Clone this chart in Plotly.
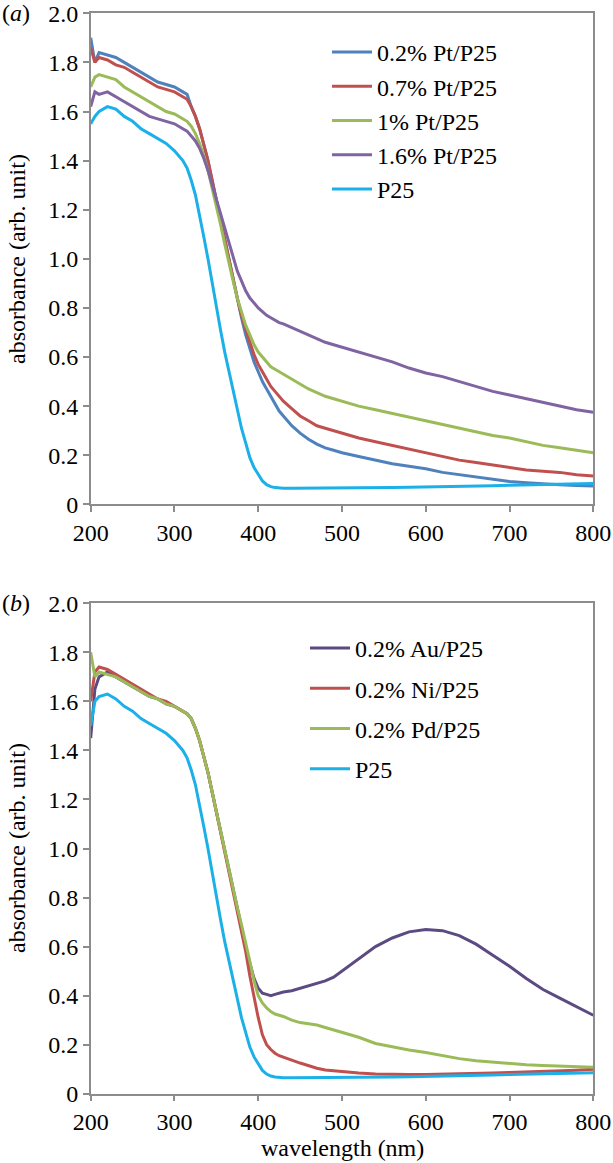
import plotly.graph_objects as go

# ---------------- data ----------------
wl = [200, 205, 210, 220, 230, 240, 250, 260, 270, 280, 290, 300, 310, 315, 320, 325, 330, 335, 340, 345,
      350, 355, 360, 365, 370, 375, 380, 385, 390, 395, 400, 405, 410, 415, 420, 425, 430, 440, 450, 460,
      470, 480, 490, 500, 520, 540, 560, 580, 600, 620, 640, 660, 680, 700, 720, 740, 760, 780, 800]

# panel (a)
pt02 = [1.90, 1.80, 1.84, 1.83, 1.82, 1.80, 1.78, 1.76, 1.74, 1.72, 1.71, 1.70, 1.68, 1.67, 1.62, 1.58, 1.53, 1.47, 1.40, 1.32,
        1.24, 1.16, 1.07, 0.99, 0.91, 0.83, 0.76, 0.69, 0.63, 0.58, 0.54, 0.50, 0.47, 0.44, 0.41, 0.38, 0.36, 0.32, 0.29, 0.265,
        0.245, 0.23, 0.22, 0.21, 0.195, 0.18, 0.165, 0.155, 0.145, 0.13, 0.12, 0.11, 0.10, 0.093, 0.088, 0.083, 0.08, 0.077, 0.075]
pt07 = [1.86, 1.80, 1.82, 1.81, 1.79, 1.78, 1.76, 1.74, 1.72, 1.70, 1.69, 1.68, 1.66, 1.65, 1.62, 1.58, 1.53, 1.47, 1.40, 1.32,
        1.24, 1.16, 1.07, 0.99, 0.91, 0.84, 0.77, 0.71, 0.66, 0.61, 0.57, 0.54, 0.51, 0.48, 0.46, 0.44, 0.42, 0.39, 0.36, 0.34,
        0.32, 0.31, 0.30, 0.29, 0.27, 0.255, 0.24, 0.225, 0.21, 0.195, 0.18, 0.17, 0.16, 0.15, 0.14, 0.135, 0.13, 0.12, 0.115]
pt1 = [1.70, 1.74, 1.75, 1.74, 1.73, 1.70, 1.68, 1.66, 1.64, 1.62, 1.60, 1.59, 1.57, 1.56, 1.54, 1.51, 1.47, 1.42, 1.36, 1.29,
       1.22, 1.14, 1.06, 0.98, 0.91, 0.84, 0.78, 0.73, 0.69, 0.65, 0.62, 0.60, 0.58, 0.56, 0.55, 0.54, 0.53, 0.51, 0.49, 0.47,
       0.455, 0.44, 0.43, 0.42, 0.40, 0.385, 0.37, 0.355, 0.34, 0.325, 0.31, 0.295, 0.28, 0.27, 0.255, 0.24, 0.23, 0.22, 0.21]
pt16 = [1.62, 1.68, 1.67, 1.68, 1.66, 1.64, 1.62, 1.60, 1.58, 1.57, 1.56, 1.55, 1.53, 1.52, 1.50, 1.48, 1.45, 1.41, 1.36, 1.30,
        1.24, 1.18, 1.12, 1.06, 1.00, 0.95, 0.91, 0.87, 0.84, 0.82, 0.80, 0.785, 0.77, 0.76, 0.75, 0.74, 0.735, 0.72, 0.705, 0.69,
        0.675, 0.66, 0.65, 0.64, 0.62, 0.60, 0.58, 0.555, 0.535, 0.52, 0.50, 0.48, 0.46, 0.445, 0.43, 0.415, 0.40, 0.385, 0.375]
p25a = [1.55, 1.58, 1.60, 1.62, 1.61, 1.58, 1.56, 1.53, 1.51, 1.49, 1.47, 1.44, 1.40, 1.37, 1.32, 1.26, 1.18, 1.09, 1.00, 0.90,
        0.80, 0.71, 0.62, 0.54, 0.46, 0.38, 0.31, 0.25, 0.19, 0.15, 0.12, 0.095, 0.08, 0.072, 0.068, 0.066, 0.065, 0.065, 0.065, 0.065,
        0.065, 0.066, 0.066, 0.066, 0.067, 0.067, 0.068, 0.069, 0.07, 0.071, 0.072, 0.074, 0.076, 0.078, 0.079, 0.08, 0.082, 0.083, 0.085]

# panel (b)
au02 = [1.45, 1.65, 1.70, 1.72, 1.70, 1.68, 1.66, 1.64, 1.62, 1.61, 1.59, 1.58, 1.56, 1.55, 1.53, 1.49, 1.44, 1.38, 1.31, 1.23,
        1.15, 1.07, 1.00, 0.92, 0.84, 0.76, 0.68, 0.60, 0.53, 0.47, 0.43, 0.41, 0.405, 0.40, 0.405, 0.41, 0.415, 0.42, 0.43, 0.44,
        0.45, 0.46, 0.475, 0.50, 0.55, 0.60, 0.635, 0.66, 0.67, 0.665, 0.645, 0.61, 0.565, 0.52, 0.47, 0.425, 0.39, 0.355, 0.32]
ni02 = [1.60, 1.72, 1.74, 1.73, 1.71, 1.69, 1.67, 1.65, 1.63, 1.61, 1.60, 1.58, 1.56, 1.55, 1.53, 1.49, 1.44, 1.38, 1.31, 1.23,
        1.15, 1.07, 0.99, 0.91, 0.83, 0.75, 0.67, 0.58, 0.48, 0.39, 0.31, 0.24, 0.20, 0.18, 0.165, 0.155, 0.148, 0.137, 0.125, 0.113,
        0.104, 0.097, 0.093, 0.09, 0.084, 0.08, 0.078, 0.078, 0.078, 0.079, 0.08, 0.082, 0.084, 0.086, 0.088, 0.09, 0.093, 0.096, 0.10]
pd02 = [1.80, 1.70, 1.72, 1.71, 1.70, 1.68, 1.66, 1.64, 1.62, 1.61, 1.59, 1.58, 1.56, 1.55, 1.53, 1.49, 1.44, 1.38, 1.31, 1.23,
        1.15, 1.07, 1.00, 0.92, 0.84, 0.76, 0.69, 0.62, 0.54, 0.46, 0.40, 0.37, 0.35, 0.335, 0.325, 0.32, 0.315, 0.30, 0.29, 0.285,
        0.28, 0.27, 0.26, 0.25, 0.23, 0.205, 0.19, 0.178, 0.168, 0.155, 0.143, 0.134, 0.128, 0.122, 0.118, 0.115, 0.112, 0.11, 0.108]
p25b = [1.50, 1.60, 1.62, 1.63, 1.61, 1.58, 1.56, 1.53, 1.51, 1.49, 1.47, 1.44, 1.40, 1.37, 1.32, 1.26, 1.18, 1.09, 1.00, 0.90,
        0.80, 0.71, 0.62, 0.54, 0.46, 0.38, 0.31, 0.25, 0.19, 0.15, 0.12, 0.095, 0.08, 0.072, 0.068, 0.066, 0.065, 0.065, 0.065, 0.065,
        0.065, 0.066, 0.066, 0.066, 0.067, 0.067, 0.068, 0.069, 0.07, 0.071, 0.072, 0.074, 0.076, 0.078, 0.079, 0.08, 0.082, 0.083, 0.085]

series_a = [("0.2% Pt/P25", pt02, "#4F81BD"), ("0.7% Pt/P25", pt07, "#C0504D"),
            ("1% Pt/P25", pt1, "#9BBB59"), ("1.6% Pt/P25", pt16, "#8064A2"), ("P25", p25a, "#1CB0E8")]
series_b = [("0.2% Au/P25", au02, "#5C4A82"), ("0.2% Ni/P25", ni02, "#C0504D"),
            ("0.2% Pd/P25", pd02, "#9BBB59"), ("P25", p25b, "#1CB0E8")]

yticks = [0, 0.2, 0.4, 0.6, 0.8, 1.0, 1.2, 1.4, 1.6, 1.8, 2.0]
yticktext = ["0", "0.2", "0.4", "0.6", "0.8", "1.0", "1.2", "1.4", "1.6", "1.8", "2.0"]
xticks = [200, 300, 400, 500, 600, 700, 800]

W, H = 613, 1163
FONT = "Liberation Serif, Times New Roman, serif"
AXC = "#8C8C8C"

fig = go.Figure()
for i, (name, ys, col) in enumerate(series_a):
    fig.add_trace(go.Scatter(x=wl, y=ys, name=name, mode="lines", line=dict(color=col, width=3),
                             xaxis="x", yaxis="y", legend="legend"))
for i, (name, ys, col) in enumerate(series_b):
    fig.add_trace(go.Scatter(x=wl, y=ys, name=name, mode="lines", line=dict(color=col, width=3),
                             xaxis="x2", yaxis="y2", legend="legend2", legendgroup="b%d" % i))

xdom = [90.7 / W, 593.3 / W]
ya_dom = [1 - 504.3 / H, 1 - 13.3 / H]
yb_dom = [1 - 1093.7 / H, 1 - 603.3 / H]

ax_common = dict(showline=True, linecolor=AXC, linewidth=1.5, mirror=True, showgrid=False, zeroline=False,
                 ticks="outside", ticklen=6, tickcolor=AXC, tickwidth=1.5, automargin=False,
                 tickfont=dict(family=FONT, size=24, color="black"))

fig.update_layout(
    width=W, height=H, margin=dict(l=0, r=0, t=0, b=0, autoexpand=False),
    paper_bgcolor="white", plot_bgcolor="white",
    xaxis=dict(domain=xdom, range=[200, 800], tickvals=xticks, anchor="y", **ax_common),
    yaxis=dict(domain=ya_dom, range=[0, 2.0], tickvals=yticks, ticktext=yticktext, anchor="x", **ax_common),
    xaxis2=dict(domain=xdom, range=[200, 800], tickvals=xticks, anchor="y2", **ax_common),
    yaxis2=dict(domain=yb_dom, range=[0, 2.0], tickvals=yticks, ticktext=yticktext, anchor="x2", **ax_common),
    legend=dict(x=327 / W, y=1 - 30 / H, xanchor="left", yanchor="top", traceorder="normal",
                itemwidth=40, bgcolor="rgba(0,0,0,0)",
                font=dict(family=FONT, size=24, color="black")),
    legend2=dict(x=305 / W, y=1 - 626 / H, xanchor="left", yanchor="top", traceorder="grouped",
                 tracegroupgap=6, itemwidth=40, bgcolor="rgba(0,0,0,0)",
                 font=dict(family=FONT, size=24, color="black")),
    showlegend=True,
)

ann = [
    dict(text="(<i>a</i>)", x=0, y=1 - 13.3 / H, xanchor="left", yanchor="middle"),
    dict(text="(<i>b</i>)", x=0, y=1 - 603.3 / H, xanchor="left", yanchor="middle"),
    dict(text="absorbance (arb. unit)", x=17 / W, y=1 - 259 / H, textangle=-90, xanchor="center", yanchor="middle"),
    dict(text="absorbance (arb. unit)", x=17 / W, y=1 - 848 / H, textangle=-90, xanchor="center", yanchor="middle"),
    dict(text="wavelength (nm)", x=342 / W, y=1 - 1148 / H, xanchor="center", yanchor="middle"),
]
for a in ann:
    fig.add_annotation(xref="paper", yref="paper", showarrow=False,
                       font=dict(family=FONT, size=24, color="black"), **a)

fig.write_html("out.html", config={"displayModeBar": False},
               post_script=["document.body.style.margin='0';document.body.style.overflow='hidden';"])
